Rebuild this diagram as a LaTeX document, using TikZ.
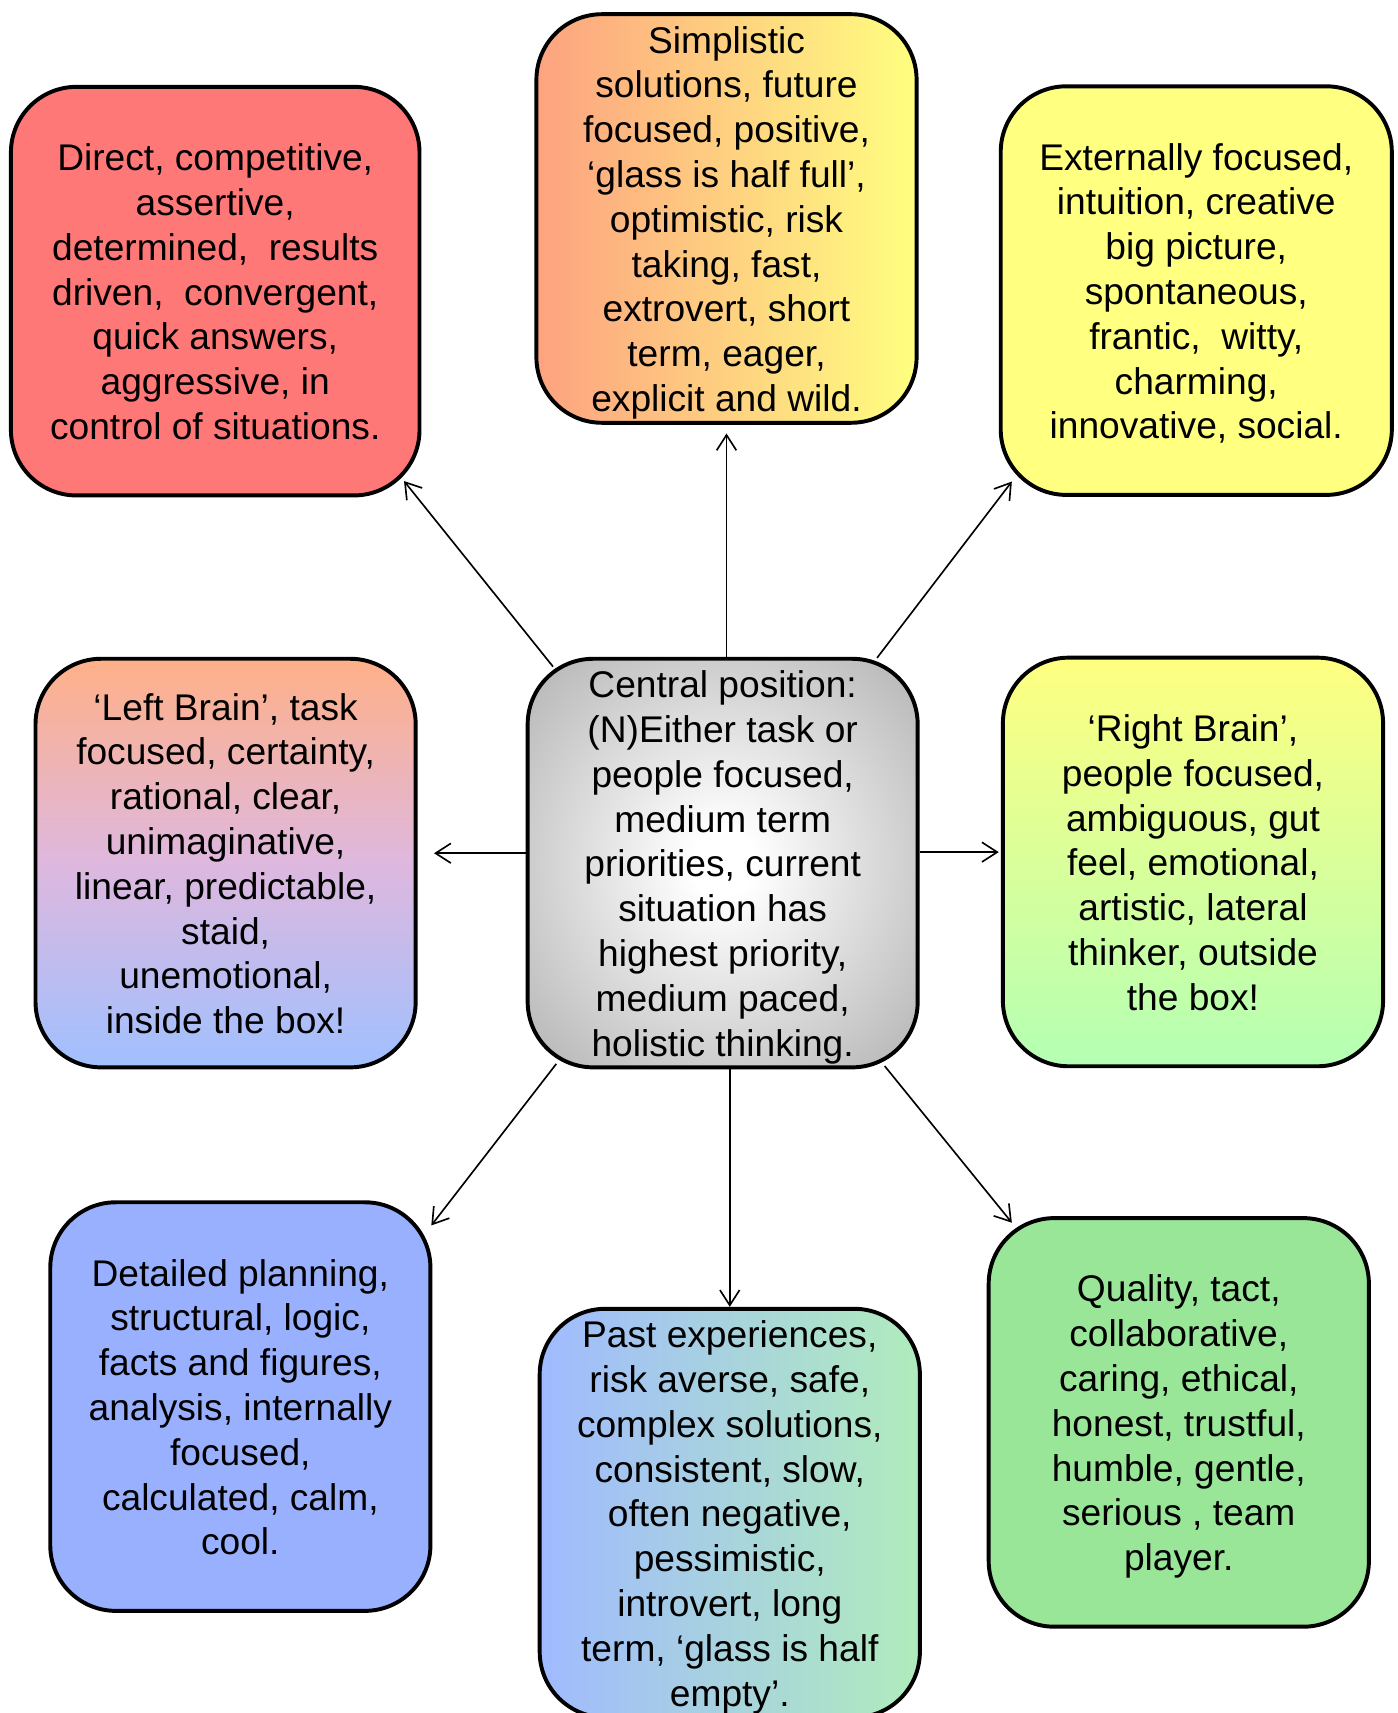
\documentclass[tikz,border=0pt]{standalone}
\usepackage{fontspec}
\setmainfont{Liberation Sans}
\usetikzlibrary{arrows.meta}

\definecolor{redbox}{RGB}{255,120,120}
\definecolor{tcleft}{RGB}{253,162,128}
\definecolor{tcright}{RGB}{255,255,128}
\definecolor{yellowbox}{RGB}{255,255,128}
\definecolor{mlpeach}{RGB}{255,176,136}
\definecolor{mllilac}{RGB}{222,184,222}
\definecolor{mlblue}{RGB}{160,192,255}
\definecolor{mrgreen}{RGB}{180,255,180}
\definecolor{bluebox}{RGB}{153,176,255}
\definecolor{bcblue}{RGB}{160,186,255}
\definecolor{bcgreen}{RGB}{176,236,188}
\definecolor{greenbox}{RGB}{153,230,153}
\definecolor{midgray}{RGB}{178,178,178}
\pgfdeclareradialshading{midglow}{\pgfpoint{0bp}{0bp}}{color(0bp)=(white); color(4bp)=(white); color(36bp)=(midgray); color(50bp)=(midgray)}
% struts so every box centres its lines the same way
\newcommand\upstrut{\rule{0pt}{16.5pt}}
\newcommand\downstrut{\rule[-3.8pt]{0pt}{3.8pt}}

\begin{document}
\begin{tikzpicture}[
  x=0.5pt, y=-0.5pt,
  every node/.style={draw, line width=1.8pt, rounded corners=30pt, align=center,
    minimum width=174pt, minimum height=187pt, inner xsep=2pt, inner ysep=0pt,
    font=\fontsize{17pt}{20.5pt}\selectfont},
  link/.style={line width=0.75pt, -{Straight Barb[length=7pt,width=9pt]}}
]
  \useasboundingbox (0,0) rectangle (1279,1568);
  % outer ring of boxes, centre box last
  \node[fill=redbox, minimum width=187pt] (tl) at (197,266.5)
    {\upstrut Direct, competitive,\\ assertive,\\ determined,\ \ results\\ driven,\ \ convergent,\\ quick answers,\\ aggressive, in\\ control of situations.\downstrut};
  \node[left color=tcleft, right color=tcright] (tc) at (665,200)
    {\upstrut Simplistic\\ solutions, future\\ focused, positive,\\ ‘glass is half full’,\\ optimistic, risk\\ taking, fast,\\ extrovert, short\\ term, eager,\\ explicit and wild.\downstrut};
  \node[fill=yellowbox, minimum width=179pt] (tr) at (1095,266)
    {\upstrut Externally focused,\\ intuition, creative\\ big picture,\\ spontaneous,\\ frantic,\ \ witty,\\ charming,\\ innovative, social.\downstrut};
  \node[top color=mlpeach, bottom color=mlblue, middle color=mllilac] (ml) at (206.5,790)
    {\upstrut ‘Left Brain’, task\\ focused, certainty,\\ rational, clear,\\ unimaginative,\\ linear, predictable,\\ staid,\\ unemotional,\\ inside the box!\downstrut};
  \node[top color=yellowbox, bottom color=mrgreen] (mr) at (1092,789)
    {\upstrut ‘Right Brain’,\\ people focused,\\ ambiguous, gut\\ feel, emotional,\\ artistic, lateral\\ thinker, outside\\ the box!\downstrut};
  \node[fill=bluebox] (bl) at (220,1287.5)
    {\upstrut Detailed planning,\\ structural, logic,\\ facts and figures,\\ analysis, internally\\ focused,\\ calculated, calm,\\ cool.\downstrut};
  \node[left color=bcblue, right color=bcgreen] (bc) at (668,1385)
    {\upstrut Past experiences,\\ risk averse, safe,\\ complex solutions,\\ consistent, slow,\\ often negative,\\ pessimistic,\\ introvert, long\\ term, ‘glass is half\\ empty’.\downstrut};
  \node[fill=greenbox] (br) at (1079,1302)
    {\upstrut Quality, tact,\\ collaborative,\\ caring, ethical,\\ honest, trustful,\\ humble, gentle,\\ serious , team\\ player.\downstrut};
  \node[shade, shading=midglow, minimum width=178.5pt] (mid) at (661.5,790)
    {\upstrut Central position:\\ (N)Either task or\\ people focused,\\ medium term\\ priorities, current\\ situation has\\ highest priority,\\ medium paced,\\ holistic thinking.\downstrut};

  % arrows out of the centre
  \draw[link] ([shift={(25,9)}]mid.north west) -- ([shift={(-16,-15)}]tl.south east);
  \draw[link] (mid.north -| tc.south) -- ([shift={(0,8)}]tc.south);
  \draw[link] ([shift={(-39,1)}]mid.north east) -- ([shift={(12,-14)}]tr.south west);
  \draw[link] ([shift={(0,-9)}]mid.west) -- ([shift={(15,-9)}]ml.east);
  \draw[link] ([shift={(0,-10)}]mid.east) -- ([shift={(-2,-9)}]mr.west);
  \draw[link] ([shift={(28,-5)}]mid.south west) -- ([shift={(-1,23)}]bl.north east);
  \draw[link] (mid.south -| bc.north) -- (bc.north);
  \draw[link] ([shift={(-32,-3)}]mid.south east) -- ([shift={(23,6)}]br.north west);
\end{tikzpicture}
\end{document}
